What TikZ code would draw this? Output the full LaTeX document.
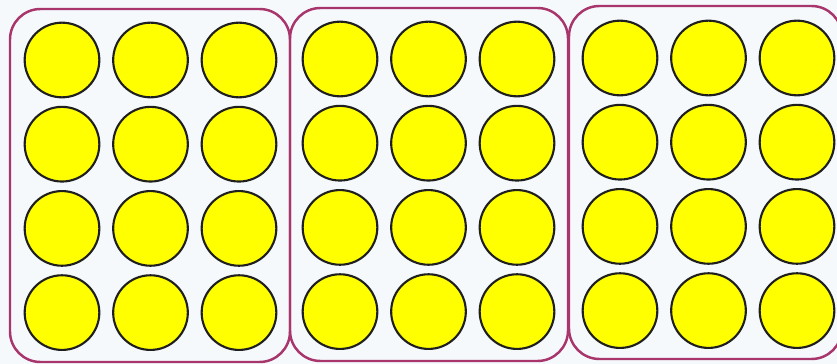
\documentclass[tikz,border=0pt]{standalone}
\usepackage{tikz}
\usetikzlibrary{positioning}

\definecolor{trayline}{HTML}{A8356B}
\definecolor{paper}{HTML}{F5F9FC}
\definecolor{counter}{HTML}{FFFF00}

\tikzset{
  tray/.style={line width=2.1pt, draw=trayline, rounded corners=26pt},
  dot/.style={circle, draw=black!88, line width=1.8pt, fill=counter,
    minimum size=2.24cm, inner sep=0pt},
}

\begin{document}
\begin{tikzpicture}[x=0.03cm, y=-0.03cm]
  \useasboundingbox[fill=paper] (0,0) rectangle (837,364);
  % three trays of twelve counters
  \draw[tray] (10,9) rectangle (290,362);
  \draw[tray] (290,8) rectangle (568,361);
  \draw[tray] (569,6) rectangle (842,359);
  \foreach \b/\x/\y in {1/62/60, 2/340/59, 3/620/58} {
    \foreach \r in {0,...,3} {
      \foreach \c in {0,...,2} {
        \node[dot] (dot-\b-\r-\c) at ({\x+88.5*\c},{\y+84.2*\r}) {};
      }
    }
  }
\end{tikzpicture}
\end{document}
